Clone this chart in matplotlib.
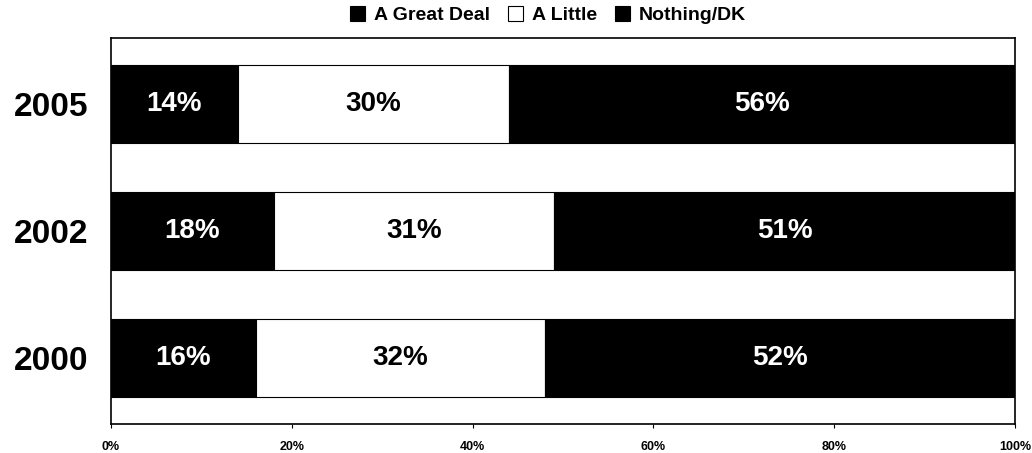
import numpy as np
import matplotlib.pyplot as plt
from matplotlib.patches import Patch
from matplotlib.ticker import PercentFormatter

years = ["2000", "2002", "2005"]
great_deal = [16, 18, 14]
a_little = [32, 31, 30]
nothing_dk = [52, 51, 56]
series_names = ["A Great Deal", "A Little", "Nothing/DK"]

plt.rcParams["font.family"] = ["Liberation Sans", "DejaVu Sans"]

fig = plt.figure(figsize=(10.32, 4.53), dpi=100)
ax = fig.add_axes([0.1076, 0.064, 0.8760, 0.852])

y = np.arange(len(years))
h = 0.61
left = np.zeros(len(years))
styles = [("black", "white"), ("white", "black"), ("black", "white")]
for vals, (face, txt) in zip([great_deal, a_little, nothing_dk], styles):
    ax.barh(y, vals, h, left=left, color=face, edgecolor="black", linewidth=0.8)
    for yi, l, v in zip(y, left, vals):
        ax.text(l + v / 2, yi, f"{v}%", ha="center", va="center",
                color=txt, fontsize=20, fontweight="bold")
    left = left + np.array(vals)

ax.set_xlim(0, 100)
ax.set_ylim(-0.52, 2.52)
ax.set_yticks(y, years, fontsize=24, fontweight="bold")
ax.tick_params(axis="y", length=0, pad=16)
ax.set_xticks(np.arange(0, 101, 20))
ax.xaxis.set_major_formatter(PercentFormatter(decimals=0))
ax.tick_params(axis="x", length=3, labelsize=9, pad=9)
for lbl in ax.get_xticklabels():
    lbl.set_fontweight("bold")
for s in ax.spines.values():
    s.set_linewidth(1.2)

handles = [Patch(facecolor=f, edgecolor="black", linewidth=0.8) for f, _ in styles]
leg = fig.legend(handles, series_names, loc="center", bbox_to_anchor=(0.531, 0.967),
                 ncol=3, frameon=False, fontsize=14, handlelength=0.8, handleheight=0.8,
                 handletextpad=0.45, columnspacing=0.9, borderaxespad=0)
for t in leg.get_texts():
    t.set_fontweight("bold")

fig.savefig("out.png", dpi=100)
